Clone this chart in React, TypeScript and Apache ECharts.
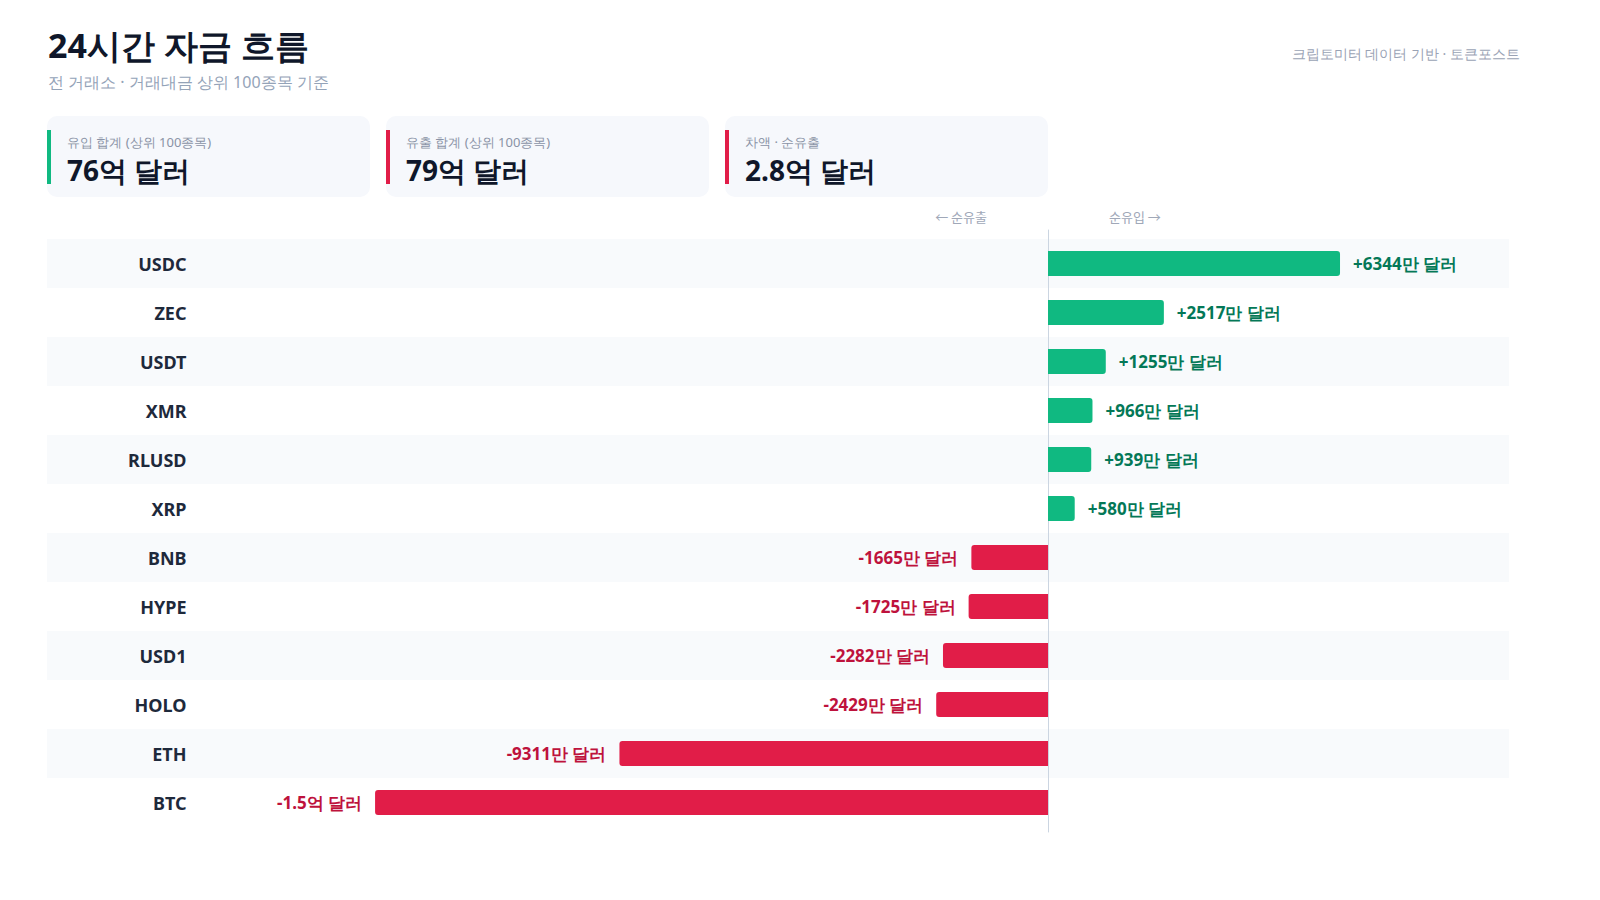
import { useRef, useEffect } from "react";
import * as echarts from "echarts";

// 24h net flow per coin, unit: 만 달러 (10k USD)
const coins = ["USDC", "ZEC", "USDT", "XMR", "RLUSD", "XRP", "BNB", "HYPE", "USD1", "HOLO", "ETH", "BTC"];
const netFlows = [6344, 2517, 1255, 966, 939, 580, -1665, -1725, -2282, -2429, -9311, -14620];

const cardLabels = ["유입 합계 (상위 100종목)", "유출 합계 (상위 100종목)", "차액 · 순유출"];
const cardValues = ["76억 달러", "79억 달러", "2.8억 달러"];
const cardAccents = ["#10b981", "#e11d48", "#e11d48"];

const axisMin = -18000;
const axisMax = 10000;

const FONT = "'Noto Sans', sans-serif";
const ARROW_FONT = "'Noto Sans CJK KR', sans-serif";
const GREEN = "#10b981";
const RED = "#e11d48";

const fmtFlow = (v: number) => {
  const sign = v > 0 ? "+" : "-";
  const a = Math.abs(v);
  if (a >= 10000) return sign + (a / 10000).toFixed(1) + "억 달러";
  return sign + a + "만 달러";
};

const App = () => {
  const chartRef = useRef<HTMLDivElement>(null);

  useEffect(() => {
    if (!chartRef.current) return;
    document.body.style.margin = "0";
    const myChart = echarts.init(chartRef.current, null, { renderer: "svg" });

    // summary cards
    const cards: any[] = [];
    cardLabels.forEach((lbl, i) => {
      const x = 47 + i * 339;
      cards.push({
        type: "rect",
        shape: { x, y: 116, width: 323, height: 81, r: 10 },
        style: { fill: "#f6f8fc" },
      });
      cards.push({
        type: "rect",
        shape: { x, y: 130, width: 4, height: 54 },
        style: { fill: cardAccents[i] },
      });
      cards.push({
        type: "text",
        x: x + 20,
        y: 142,
        style: { text: lbl, fill: "#8a93a6", font: `13px ${FONT}`, verticalAlign: "middle" },
      });
      cards.push({
        type: "text",
        x: x + 20,
        y: 170,
        style: { text: cardValues[i], fill: "#0f172a", font: `bold 28px ${FONT}`, verticalAlign: "middle" },
      });
    });

    const option: any = {
      animation: false,
      backgroundColor: "#ffffff",
      textStyle: { fontFamily: FONT },
      grid: [
        { left: 219.5, right: 91.7, top: 239, bottom: 73 },
        { left: 47, right: 91, top: 239, bottom: 73 },
        { left: 219.5, right: 91.7, top: 230, bottom: 68 },
      ],
      xAxis: [
        { type: "value", gridIndex: 0, min: axisMin, max: axisMax, show: false },
        { type: "value", gridIndex: 1, min: 0, max: 1, show: false },
        { type: "value", gridIndex: 2, min: axisMin, max: axisMax, show: false },
      ],
      yAxis: [
        {
          type: "category",
          gridIndex: 0,
          data: coins,
          inverse: true,
          axisLine: { show: false },
          axisTick: { show: false },
          axisLabel: { fontSize: 18, fontWeight: "bold", color: "#1e293b", margin: 33, fontFamily: FONT },
        },
        {
          // zebra row bands
          type: "category",
          gridIndex: 1,
          data: coins,
          inverse: true,
          axisLine: { show: false },
          axisTick: { show: false },
          axisLabel: { show: false },
          splitArea: { show: true, areaStyle: { color: ["#f8fafc", "#ffffff"] } },
        },
        {
          // zero line
          type: "category",
          gridIndex: 2,
          data: [""],
          axisLine: { show: true, onZero: true, lineStyle: { color: "#cbd5e1", width: 1 } },
          axisTick: { show: false },
          axisLabel: { show: false },
        },
      ],
      graphic: [
        {
          type: "text",
          x: 48,
          y: 45,
          style: { text: "24시간 자금 흐름", fill: "#0f172a", font: `bold 34px ${FONT}`, verticalAlign: "middle" },
        },
        {
          type: "text",
          x: 48,
          y: 82,
          style: { text: "전 거래소 · 거래대금 상위 100종목 기준", fill: "#94a3b8", font: `16px ${FONT}`, verticalAlign: "middle" },
        },
        {
          type: "text",
          x: 1520,
          y: 53,
          style: { text: "크립토미터 데이터 기반 · 토큰포스트", fill: "#9aa3b5", font: `14px ${FONT}`, align: "right", verticalAlign: "middle" },
        },
        {
          type: "text",
          x: 987,
          y: 216,
          style: { text: "← 순유출", fill: "#a0a8b8", font: `13px ${ARROW_FONT}`, align: "right", verticalAlign: "middle" },
        },
        {
          type: "text",
          x: 1109,
          y: 216,
          style: { text: "순유입 →", fill: "#a0a8b8", font: `13px ${ARROW_FONT}`, align: "left", verticalAlign: "middle" },
        },
        ...cards,
      ],
      series: [
        {
          type: "bar",
          xAxisIndex: 0,
          yAxisIndex: 0,
          barWidth: 25,
          data: netFlows.map((v) => ({
            value: v,
            itemStyle: {
              color: v >= 0 ? GREEN : RED,
              borderRadius: v >= 0 ? [0, 3, 3, 0] : [3, 0, 0, 3],
            },
            label: {
              show: true,
              position: v >= 0 ? "right" : "left",
              distance: 13,
              color: v >= 0 ? "#047857" : "#be123c",
              fontSize: 17,
              fontWeight: "bold",
              fontFamily: FONT,
              formatter: () => fmtFlow(v),
            },
          })),
        },
      ],
    };

    myChart.setOption(option);
    const resizeObserver = new ResizeObserver(() => myChart.resize());
    resizeObserver.observe(chartRef.current);
    return () => {
      resizeObserver.disconnect();
      myChart.dispose();
    };
  }, []);

  return <div ref={chartRef} style={{ width: "1600px", height: "900px" }}></div>;
};

export default App;
